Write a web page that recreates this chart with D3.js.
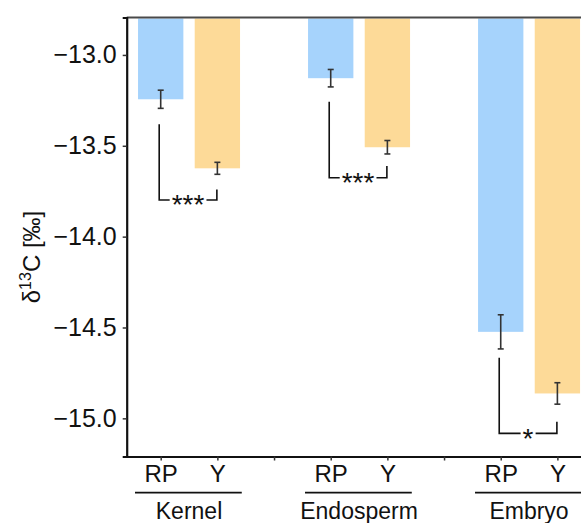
<!DOCTYPE html>
<html>
<head>
<meta charset="utf-8">
<script src="https://cdn.jsdelivr.net/npm/d3@7"></script>
<style>
  html, body { margin: 0; padding: 0; background: #fff; }
  svg { display: block; font-family: "Liberation Sans", Arial, sans-serif; }
</style>
</head>
<body>
<svg id="chart" width="581" height="523"></svg>
<script>
// Tissues and genotypes
const tissues = ["Kernel", "Endosperm", "Embryo"];
const genotypes = ["RP", "Y"];

// Mean δ13C (‰) and standard errors per tissue
const meanRP = [-13.244, -13.128, -14.524];
const meanY  = [-13.624, -13.508, -14.863];
const seRP   = [0.050, 0.048, 0.094];
const seY    = [0.033, 0.037, 0.059];

// Significance brackets (value units): left leg start, right leg start, bracket base
const sigLabels    = ["***", "***", "*"];
const bracketLeft  = [-13.382, -13.257, -14.667];
const bracketRight = [-13.740, -13.611, -15.019];
const bracketBase  = [-13.798, -13.676, -15.083];

const yTicks = [-13.0, -13.5, -14.0, -14.5, -15.0];

const colors = { RP: "#a6d3fc", Y: "#fdda98" };

const svg = d3.select("#chart");

const panel = { left: 126.7, top: 17.5, bottom: 456.5 };
const slotW = 56.67;

// x: slot index (RP, Y, gap, RP, Y, gap, RP, Y)
const x = d3.scaleLinear().domain([-0.6, 7.6]).range([panel.left, panel.left + 8.2 * slotW]);
const y = d3.scaleLinear().domain([-12.794, -15.21]).range([panel.top, panel.bottom]);
const barW = 0.8 * slotW;

const bars = [];
tissues.forEach((t, i) => {
  bars.push({ tissue: t, g: genotypes[0], slot: i * 3,     mean: meanRP[i], se: seRP[i] });
  bars.push({ tissue: t, g: genotypes[1], slot: i * 3 + 1, mean: meanY[i],  se: seY[i] });
});

// Bars hang from the top of the panel
svg.append("g").selectAll("rect").data(bars).join("rect")
  .attr("x", d => x(d.slot) - barW / 2)
  .attr("y", y.range()[0] + 1)
  .attr("width", barW)
  .attr("height", d => y(d.mean) - y.range()[0] - 1)
  .attr("fill", d => colors[d.g]);

// Error bars
const eb = svg.append("g").attr("stroke", "#333").attr("stroke-width", 1.6).attr("fill", "none");
bars.forEach(d => {
  const cx = x(d.slot), y1 = y(d.mean + d.se), y2 = y(d.mean - d.se), c = 3;
  eb.append("line").attr("x1", cx).attr("x2", cx).attr("y1", y1).attr("y2", y2);
  eb.append("line").attr("x1", cx - c).attr("x2", cx + c).attr("y1", y1).attr("y2", y1);
  eb.append("line").attr("x1", cx - c).attr("x2", cx + c).attr("y1", y2).attr("y2", y2);
});

// Significance brackets
const br = svg.append("g");
const starSize = 28;
tissues.forEach((t, i) => {
  const xl = x(i * 3) - 1.5, xr = x(i * 3 + 1) - 0.5;
  const yb = y(bracketBase[i]);
  const mid = (xl + xr) / 2;
  const label = br.append("text")
    .attr("x", mid).attr("y", yb + starSize * 0.52)
    .attr("text-anchor", "middle")
    .attr("font-size", starSize)
    .attr("fill", "#111")
    .text(sigLabels[i]);
  const bb = label.node().getBBox();
  const gap = 2;
  const path = d3.path();
  path.moveTo(xl, y(bracketLeft[i]));
  path.lineTo(xl, yb);
  path.lineTo(bb.x - gap, yb);
  path.moveTo(bb.x + bb.width + gap, yb);
  path.lineTo(xr, yb);
  path.lineTo(xr, y(bracketRight[i]));
  br.append("path").attr("d", path.toString())
    .attr("fill", "none").attr("stroke", "#111").attr("stroke-width", 1.6);
});

// Top border
svg.append("line")
  .attr("x1", panel.left).attr("x2", 581)
  .attr("y1", panel.top).attr("y2", panel.top)
  .attr("stroke", "#4a4a4a").attr("stroke-width", 2);

// Y axis
const yAxis = svg.append("g").attr("transform", `translate(${panel.left},0)`)
  .call(d3.axisLeft(y).tickValues(yTicks).tickFormat(d => d3.format(".1f")(d).replace("-", "\u2212")).tickSize(4).tickPadding(6));
yAxis.select(".domain").attr("stroke", "#111").attr("stroke-width", 2.2);
yAxis.selectAll(".tick line").attr("stroke", "#333").attr("stroke-width", 1.5);
yAxis.selectAll(".tick text").attr("font-size", 25).attr("fill", "#111").attr("font-family", "Liberation Sans, Arial, sans-serif");

// X axis with a tick for every slot
const slotLabels = ["RP", "Y", "", "RP", "Y", "", "RP", "Y"];
const xAxis = svg.append("g").attr("transform", `translate(0,${panel.bottom})`)
  .call(d3.axisBottom(x).tickValues(d3.range(8)).tickFormat(i => slotLabels[i]).tickSize(4).tickPadding(4).tickSizeOuter(0));
xAxis.select(".domain").attr("stroke", "#111").attr("stroke-width", 2.2);
xAxis.selectAll(".tick line").attr("stroke", "#333").attr("stroke-width", 1.5);
xAxis.selectAll(".tick text").attr("font-size", 24).attr("fill", "#111").attr("font-family", "Liberation Sans, Arial, sans-serif");

// Tissue group labels with underline
const grp = svg.append("g");
tissues.forEach((t, i) => {
  const a = x(i * 3), b = x(i * 3 + 1);
  grp.append("line")
    .attr("x1", a - 25.7).attr("x2", b + 24.4)
    .attr("y1", 492.7).attr("y2", 492.7)
    .attr("stroke", "#111").attr("stroke-width", 1.8);
  grp.append("text")
    .attr("x", (a + b) / 2).attr("y", 519)
    .attr("text-anchor", "middle")
    .attr("font-size", 23).attr("fill", "#111")
    .text(t);
});

// Y axis title
const title = svg.append("text")
  .attr("transform", "translate(40,257) rotate(-90)")
  .attr("text-anchor", "middle")
  .attr("font-size", 24).attr("fill", "#111");
title.append("tspan").text("\u03B4");
title.append("tspan").attr("dy", -9).attr("font-size", 16).text("13");
title.append("tspan").attr("dy", 9).text("C [\u2030]");
</script>
</body>
</html>
